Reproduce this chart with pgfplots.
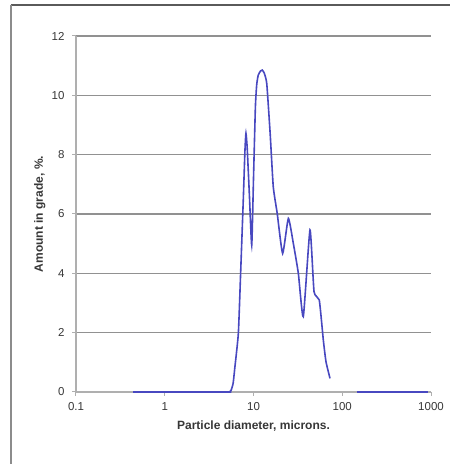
\documentclass[border=0pt]{standalone}
\usepackage{pgfplots}
\pgfplotsset{compat=1.18}
\usepackage{fontspec}
\setmainfont{Liberation Sans}
\definecolor{curve}{RGB}{72,72,192}
\definecolor{gridc}{RGB}{145,145,145}
\definecolor{axisc}{RGB}{175,175,175}
\definecolor{textc}{RGB}{55,55,55}
\begin{document}
\begin{tikzpicture}[x=1pt,y=1pt]
\useasboundingbox[fill=white] (-76,-76) rectangle (374,392);
\draw[line width=2pt, color={rgb,255:red,90;green,90;blue,90}] (-65,387) -- (374,387);
\draw[line width=1.6pt, color={rgb,255:red,140;green,140;blue,140}] (-65,387) -- (-65,-72);
\begin{axis}[
  at={(0,0)}, anchor=south west,
  scale only axis, width=355pt, height=356pt,
  xmode=log, xmin=0.1, xmax=1000, ymin=0, ymax=12,
  axis lines=left, axis line style={draw=axisc, line width=1.2pt, -},
  xtick={0.1,1,10,100,1000}, xticklabels={0.1,1,10,100,1000},
  ytick={0,2,4,6,8,10,12},
  xminorticks=false, yminorticks=false,
  tick align=outside, major tick length=4pt,
  tick style={draw=axisc, line width=1pt},
  ymajorgrids, major grid style={draw=gridc, line width=1.5pt},
  tick label style={font=\fontsize{11.5}{13}\selectfont, text=textc},
  xticklabel style={yshift=-3pt},
  yticklabel style={xshift=-4pt},
  /pgf/number format/assume math mode=true,
  xlabel={\bfseries Particle diameter, microns.},
  ylabel={\bfseries Amount in grade, \%.},
  xlabel style={font=\fontsize{12}{14}\selectfont, text=textc, at={(axis description cs:0.5,0)}, anchor=north, yshift=-25pt},
  ylabel style={font=\fontsize{12}{14}\selectfont, text=textc, at={(axis description cs:0,0.5)}, anchor=south, yshift=27pt},
  clip=false,
]
\addplot[color=curve, line width=1.6pt, smooth, tension=0.3] coordinates {
(0.44,0) (5.1,0) (5.35,0) (5.6,0.06) (5.9,0.3) (6.17,0.84) (6.75,1.98) (7.16,4.0) (7.67,6.47) (8.0,8.1) (8.22,8.72) (8.5,8.2) (9.0,6.6) (9.55,4.95) (10.0,7.2) (10.5,9.6) (10.86,10.35) (11.3,10.68) (12.0,10.82) (12.56,10.85) (13.2,10.75) (14.1,10.4) (15.4,8.72) (16.7,6.92) (18.5,6.02) (21.3,4.67) (24.7,5.85) (28.1,5.01) (32.0,4.0) (36.4,2.54) (43.3,5.46) (48.1,3.38) (55.1,3.1) (61.2,1.75) (65.6,1.02) (72.8,0.46)
};
\addplot[color=curve, line width=1.6pt] coordinates {(145.5,0) (933,0)};
\end{axis}
\end{tikzpicture}
\end{document}
